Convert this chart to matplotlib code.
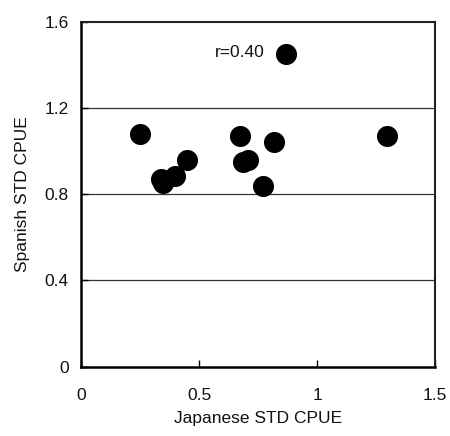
import matplotlib
matplotlib.use("Agg")
import matplotlib.pyplot as plt

# values
japanese = [0.250, 0.337, 0.347, 0.400, 0.450, 0.675, 0.685, 0.708, 0.771, 0.819, 0.867, 1.296]
spanish = [1.079, 0.873, 0.853, 0.884, 0.958, 1.070, 0.951, 0.958, 0.838, 1.043, 1.450, 1.071]
r_label = "r=0.40"
x_ticks = [0, 0.5, 1, 1.5]
x_tick_labels = ["0", "0.5", "1", "1.5"]
y_ticks = [0, 0.4, 0.8, 1.2, 1.6]
y_tick_labels = ["0", "0.4", "0.8", "1.2", "1.6"]

plt.rcParams['font.family'] = ['Liberation Sans', 'DejaVu Sans']

fig = plt.figure(figsize=(4.5, 4.36), dpi=100)
ax = fig.add_axes([0.180, 0.159, 0.787, 0.791])

for y in [0.4, 0.8, 1.2]:
    ax.axhline(y, color='#333333', lw=0.9, zorder=1)

ax.scatter(japanese, spanish, s=230, color='black', zorder=3, linewidths=0)
ax.text(0.778, 1.456, r_label, ha='right', va='center', fontsize=12.5, color='#111111')

ax.set_xlim(0, 1.5)
ax.set_ylim(0, 1.6)
ax.set_xticks(x_ticks)
ax.set_xticklabels(x_tick_labels)
ax.set_yticks(y_ticks)
ax.set_yticklabels(y_tick_labels)
ax.tick_params(axis='both', direction='in', length=5, width=1, labelsize=12.5,
               labelcolor='#111111')
ax.tick_params(axis='x', pad=15)
ax.tick_params(axis='y', pad=9)

for side in ['left', 'bottom']:
    ax.spines[side].set_linewidth(1.8)
for side in ['top', 'right']:
    ax.spines[side].set_linewidth(1.5)
    ax.spines[side].set_color('#222222')

ax.set_xlabel("Japanese STD CPUE", fontsize=12.5, labelpad=6, color='#111111')
ax.set_ylabel("Spanish STD CPUE", fontsize=12.5, labelpad=10, color='#111111')

fig.savefig("out.png", dpi=100)
